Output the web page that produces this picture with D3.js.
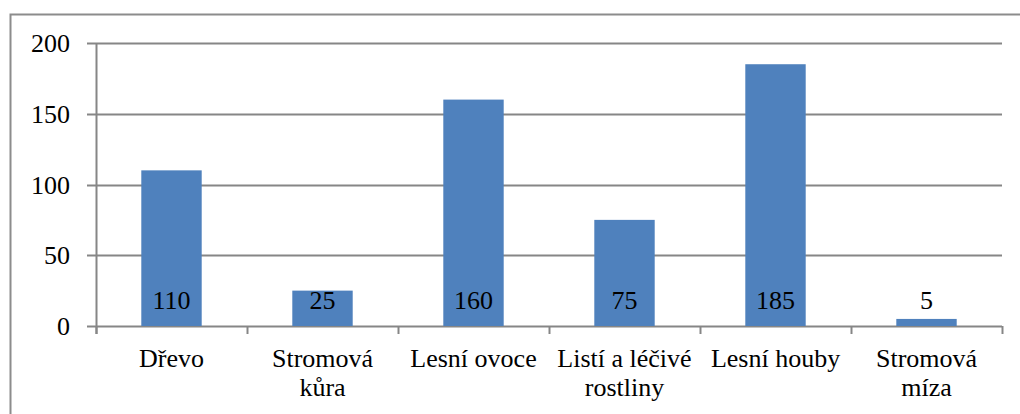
<!DOCTYPE html>
<html>
<head>
<meta charset="utf-8">
<script src="https://cdn.jsdelivr.net/npm/d3@7"></script>
<style>
  body { margin: 0; background: #fff; }
  text { font-family: "Liberation Serif", "DejaVu Serif", serif; fill: #000; }
</style>
</head>
<body>
<div id="chart"></div>
<script>
const categories = [["Dřevo"], ["Stromová", "kůra"], ["Lesní ovoce"], ["Listí a léčivé", "rostliny"], ["Lesní houby"], ["Stromová", "míza"]];
const values = [110, 25, 160, 75, 185, 5];
const yTicks = [0, 50, 100, 150, 200];

const W = 1020, H = 414;
const margin = {top: 43, right: 18, bottom: 88, left: 96},
    width = W - margin.left - margin.right,
    height = H - margin.top - margin.bottom;

const root = d3.select("#chart").append("svg")
    .attr("width", W)
    .attr("height", H);

// outer frame, runs off the right and bottom edge
root.append("rect")
    .attr("x", 10.5).attr("y", 14.5)
    .attr("width", W).attr("height", H)
    .attr("fill", "none")
    .attr("stroke", "#8c8c8c")
    .attr("stroke-width", 2);

const svg = root.append("g")
    .attr("transform", `translate(${margin.left},${margin.top})`);

const x = d3.scaleBand()
    .domain(d3.range(values.length))
    .range([0, width])
    .paddingInner(0.6)
    .paddingOuter(0.3);

const y = d3.scaleLinear()
    .domain([0, 200])
    .range([height, 0]);

const grey = "#868686";

// gridlines + left ticks
svg.append("g")
    .selectAll("line")
    .data(yTicks)
    .join("line")
    .attr("x1", -9).attr("x2", width)
    .attr("y1", d => Math.round(y(d)) + 0.5)
    .attr("y2", d => Math.round(y(d)) + 0.5)
    .attr("stroke", grey)
    .attr("stroke-width", 2);

svg.append("g")
    .selectAll("text")
    .data(yTicks)
    .join("text")
    .attr("x", -26)
    .attr("y", d => y(d) + 9)
    .attr("text-anchor", "end")
    .style("font-size", "26px")
    .text(d => d);

// bars
svg.append("g")
    .selectAll("rect")
    .data(values)
    .join("rect")
    .attr("x", (d, i) => x(i))
    .attr("y", d => y(d))
    .attr("width", x.bandwidth())
    .attr("height", d => y(0) - y(d))
    .attr("fill", "#4f81bd");

// y axis line
svg.append("line")
    .attr("x1", 0.5).attr("x2", 0.5)
    .attr("y1", 0).attr("y2", height + 8)
    .attr("stroke", grey)
    .attr("stroke-width", 2);

// category ticks
const step = width / values.length;
svg.append("g")
    .selectAll("line")
    .data(d3.range(values.length + 1))
    .join("line")
    .attr("x1", d => Math.round(d * step) + 0.5)
    .attr("x2", d => Math.round(d * step) + 0.5)
    .attr("y1", height).attr("y2", height + 8)
    .attr("stroke", grey)
    .attr("stroke-width", 2);

// value labels at the base of each bar
svg.append("g")
    .selectAll("text")
    .data(values)
    .join("text")
    .attr("x", (d, i) => x(i) + x.bandwidth() / 2)
    .attr("y", height - 17)
    .attr("text-anchor", "middle")
    .style("font-size", "26px")
    .text(d => d);

// category labels
const cat = svg.append("g")
    .selectAll("text")
    .data(categories)
    .join("text")
    .attr("text-anchor", "middle")
    .attr("transform", (d, i) => `translate(${x(i) + x.bandwidth() / 2},${height + 41})`)
    .style("font-size", "26px");

cat.selectAll("tspan")
    .data(d => d)
    .join("tspan")
    .attr("x", 0)
    .attr("dy", (d, i) => i ? 29 : 0)
    .text(d => d);
</script>
</body>
</html>
